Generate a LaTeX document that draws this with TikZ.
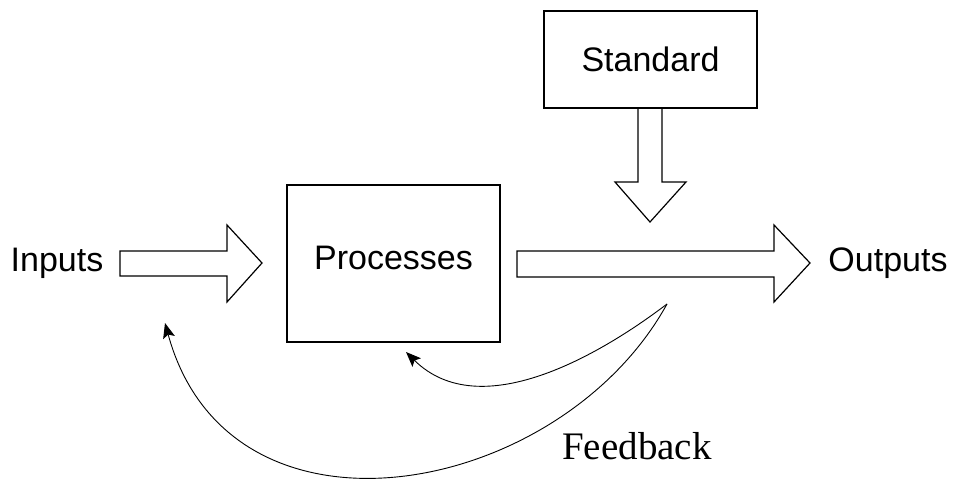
\documentclass[tikz,border=0pt]{standalone}
\usepackage{fontspec}
\setmainfont{Liberation Serif}
\setsansfont{Liberation Sans}
\usetikzlibrary{arrows.meta}

\begin{document}
\begin{tikzpicture}[x=1pt,y=-1pt,
	box/.style={shape=rectangle,draw=black,line width=1.6pt,font=\sffamily\fontsize{34}{40}\selectfont},
	label/.style={font=\sffamily\fontsize{34}{40}\selectfont},
	fat/.style={draw=black,line width=1.2pt,line join=miter},
	loop/.style={draw=black,line width=0.9pt,-{Stealth[length=15pt,width=12pt,inset=3pt]}}]
	\useasboundingbox (0,0) rectangle (956,479);
	\node[box,minimum width=213pt,minimum height=97pt] (S) at (650.5,59.5) {Standard};
	\node[box,minimum width=213pt,minimum height=157pt,text depth=12pt] (P) at (393.5,263.5) {Processes};
	\node[label] (I) at (57,263) {Inputs};
	\node[label] (O) at (888,263) {Outputs};
	\node[font=\rmfamily\fontsize{39}{44}\selectfont,anchor=base west,inner sep=0pt] (F) at (562,459) {Feedback};
	\coordinate (fb) at (667,304);
	\coordinate (toP) at (406,352);
	\coordinate (toI) at (165,323);
	% block arrows
	\draw[fat] (120,251) -- (227,251) -- (227,225) -- (262,263) -- (227,302) -- (227,276) -- (120,276) -- cycle;
	\draw[fat] (517,251) -- (774,251) -- (774,225) -- (810,263) -- (774,302) -- (774,277) -- (517,277) -- cycle;
	\draw[fat] (638,108) -- (638,182) -- (615,182) -- (650,222) -- (686,182) -- (662,182) -- (662,108);
	% feedback
	\path[loop] (fb) .. controls (600,355) and (480,425) .. (toP);
	\path[loop] (fb) .. controls (560,498) and (230,560) .. (toI);
\end{tikzpicture}
\end{document}
